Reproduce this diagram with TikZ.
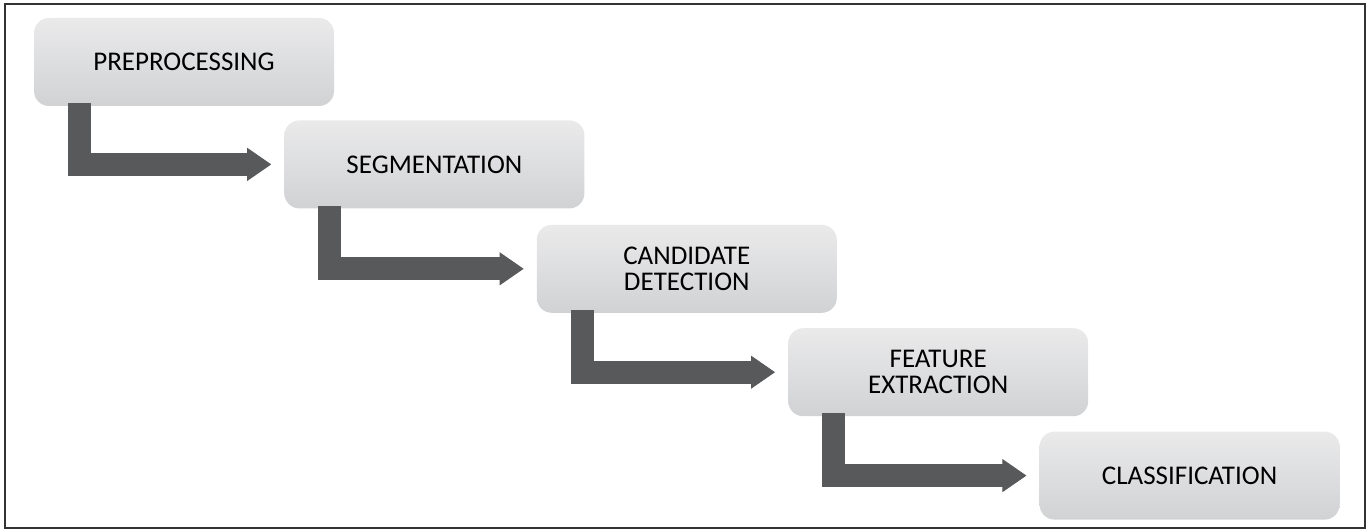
\documentclass[tikz,border=0pt]{standalone}
\usepackage{fontspec}
\setmainfont{Carlito}
\usetikzlibrary{arrows.meta,positioning,calc}

\definecolor{boxtop}{RGB}{209,210,212}
\definecolor{boxbot}{RGB}{234,234,235}
\definecolor{arrowgray}{RGB}{88,89,91}

\begin{document}
\begin{tikzpicture}[x=1pt,y=-1pt,>={Triangle[length=24pt,width=33pt,line width=1pt]},thin]
% y runs downwards here, so the shading colours are given the other way round
\tikzstyle{stage}=[shape=rectangle,rounded corners=15pt,top color=boxbot,bottom color=boxtop,draw=none,
  minimum width=300pt,minimum height=88pt,text=black,align=center,font=\fontsize{27}{26}\selectfont]
\tikzstyle{flow}=[->,draw=arrowgray,line width=23pt,line join=miter]

\useasboundingbox (0,0) rectangle (1366,529);
\draw[black!80,line width=1.5pt] (5,4) rectangle (1365,528);

\node[stage] (A) at (184,62) {PREPROCESSING};
\node[stage] (B) [below right=14pt and -50pt of A] {SEGMENTATION};
\node[stage] (C) [below right=16pt and -48pt of B] {CANDIDATE\\DETECTION};
\node[stage] (D) [below right=15pt and -49pt of C] {FEATURE\\EXTRACTION};
\node[stage] (E) [below right=15pt and -49pt of D] {CLASSIFICATION};

\draw[flow] ($(A.south west)+(45.5,-3)$) |- ($(B.west)+(-13,0)$);
\draw[flow] ($(B.south west)+(45.5,-3)$) |- ($(C.west)+(-13,0)$);
\draw[flow] ($(C.south west)+(45.5,-3)$) |- ($(D.west)+(-13,0)$);
\draw[flow] ($(D.south west)+(45.5,-3)$) |- ($(E.west)+(-13,0)$);
    \end{tikzpicture}
\end{document}
